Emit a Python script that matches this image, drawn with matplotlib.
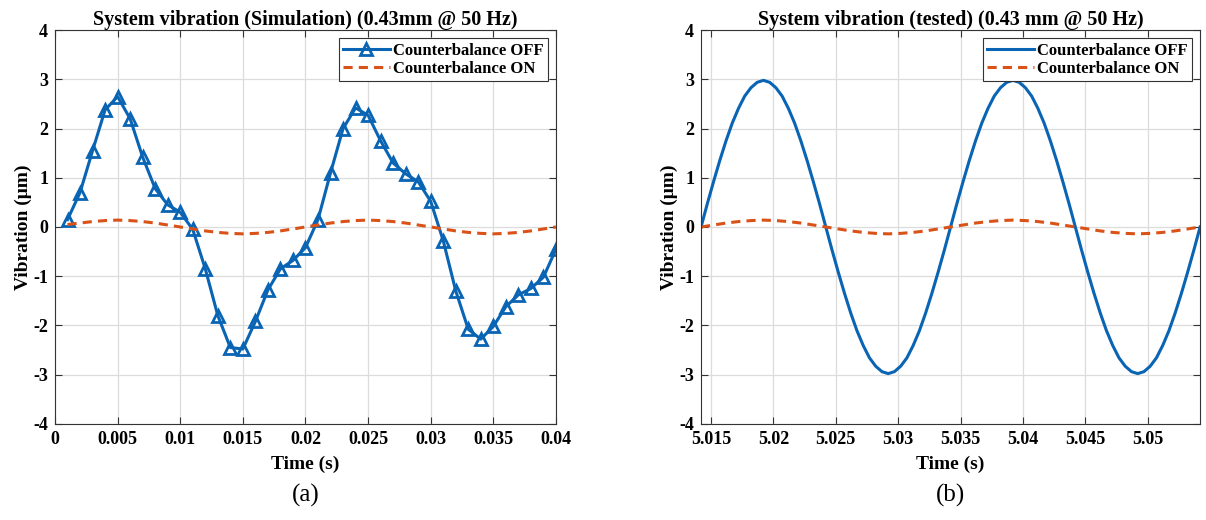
import numpy as np
import matplotlib
matplotlib.use("Agg")
import matplotlib.pyplot as plt

# simulated response, one sample per millisecond
sim_time = np.round(np.arange(1, 41) * 0.001, 3)
sim_off = [0.15, 0.70, 1.55, 2.38, 2.65, 2.20, 1.42, 0.78, 0.45, 0.30,
           -0.05, -0.85, -1.80, -2.45, -2.48, -1.92, -1.28, -0.85, -0.68, -0.42,
           0.15, 1.10, 2.00, 2.42, 2.27, 1.75, 1.30, 1.08, 0.92, 0.52,
           -0.28, -1.30, -2.08, -2.28, -2.02, -1.62, -1.38, -1.25, -1.02, -0.45]
sim_on = [0.05, 0.08, 0.11, 0.13, 0.14, 0.13, 0.11, 0.08, 0.04, 0.00,
          -0.04, -0.08, -0.11, -0.13, -0.14, -0.13, -0.11, -0.08, -0.04, 0.00,
          0.04, 0.08, 0.11, 0.13, 0.14, 0.13, 0.11, 0.08, 0.04, 0.00,
          -0.04, -0.08, -0.11, -0.13, -0.14, -0.13, -0.11, -0.08, -0.04, 0.00]

# measured response
test_t0 = 5.0142
test_time_off = test_t0 + np.arange(81) * 0.0005
test_off = [0.00, 0.47, 0.92, 1.35, 1.75, 2.11, 2.41, 2.66, 2.83, 2.94,
            2.98, 2.94, 2.83, 2.66, 2.41, 2.11, 1.75, 1.35, 0.92, 0.47,
            0.00, -0.47, -0.92, -1.35, -1.75, -2.11, -2.41, -2.66, -2.83, -2.94,
            -2.98, -2.94, -2.83, -2.66, -2.41, -2.11, -1.75, -1.35, -0.92, -0.47,
            0.00, 0.47, 0.92, 1.35, 1.75, 2.11, 2.41, 2.66, 2.83, 2.94,
            2.98, 2.94, 2.83, 2.66, 2.41, 2.11, 1.75, 1.35, 0.92, 0.47,
            0.00, -0.47, -0.92, -1.35, -1.75, -2.11, -2.41, -2.66, -2.83, -2.94,
            -2.98, -2.94, -2.83, -2.66, -2.41, -2.11, -1.75, -1.35, -0.92, -0.47,
            0.00]
test_time_on = test_t0 + np.arange(41) * 0.001
test_on = [0.00, 0.04, 0.08, 0.11, 0.13, 0.14, 0.13, 0.11, 0.08, 0.04,
           0.00, -0.04, -0.08, -0.11, -0.13, -0.14, -0.13, -0.11, -0.08, -0.04,
           0.00, 0.04, 0.08, 0.11, 0.13, 0.14, 0.13, 0.11, 0.08, 0.04,
           0.00, -0.04, -0.08, -0.11, -0.13, -0.14, -0.13, -0.11, -0.08, -0.04,
           0.00]

sim_xticks = [0, 0.005, 0.01, 0.015, 0.02, 0.025, 0.03, 0.035, 0.04]
sim_xlabels = ['0', '0.005', '0.01', '0.015', '0.02', '0.025', '0.03', '0.035', '0.04']
test_xticks = [5.015, 5.02, 5.025, 5.03, 5.035, 5.04, 5.045, 5.05]
test_xlabels = ['5.015', '5.02', '5.025', '5.03', '5.035', '5.04', '5.045', '5.05']
yticks = [-4, -3, -2, -1, 0, 1, 2, 3, 4]

blue = '#0a64b4'
orange = '#d95319'

plt.rcParams['font.family'] = ['Liberation Serif', 'DejaVu Serif']
plt.rcParams['axes.unicode_minus'] = False

fig = plt.figure(figsize=(12.06, 5.2), dpi=100)
ax1 = fig.add_axes([0.0456, 0.185, 0.4154, 0.757])
ax2 = fig.add_axes([0.5813, 0.185, 0.4138, 0.757])


def style(ax, title, xticks, xlabels, caption):
    ax.set_ylim(-4, 4)
    ax.set_yticks(yticks)
    ax.set_yticklabels([str(v) for v in yticks], fontweight='bold', fontsize=13)
    ax.set_xticks(xticks)
    ax.set_xticklabels(xlabels, fontweight='bold', fontsize=13)
    ax.tick_params(direction='in', top=True, right=True, length=5, width=0.8,
                   color='#333333', pad=5)
    ax.grid(True, color='#dcdcdc', linewidth=0.9)
    ax.set_axisbelow(True)
    for s in ax.spines.values():
        s.set_color('#333333')
        s.set_linewidth(0.8)
    ax.set_title(title, fontweight='bold', fontsize=14.5, pad=4)
    ax.set_xlabel('Time (s)', fontweight='bold', fontsize=14, labelpad=6)
    ax.set_ylabel('Vibration (μm)', fontweight='bold', fontsize=14, labelpad=1)
    leg = ax.legend(loc='upper right', fancybox=False, framealpha=1,
                    edgecolor='#333333', prop={'weight': 'bold', 'size': 12},
                    handlelength=2.8, handletextpad=0.2, borderpad=0.25,
                    labelspacing=0.15, borderaxespad=0.5)
    leg.get_frame().set_linewidth(0.8)
    ax.text(0.5, -0.182, caption, transform=ax.transAxes, ha='center', va='center',
            fontsize=18)


ax1.plot(sim_time, sim_off, color=blue, lw=2.2, marker='^', markersize=9,
         markerfacecolor='none', markeredgewidth=2, label='Counterbalance OFF')
ax1.plot(sim_time, sim_on, color=orange, lw=2.2, ls=(0, (3, 2)),
         label='Counterbalance ON')
ax1.set_xlim(0, 0.04)
style(ax1, 'System vibration (Simulation) (0.43mm @ 50 Hz)', sim_xticks, sim_xlabels, '(a)')

ax2.plot(test_time_off, test_off, color=blue, lw=2.2, label='Counterbalance OFF')
ax2.plot(test_time_on, test_on, color=orange, lw=2.2, ls=(0, (3, 2)),
         label='Counterbalance ON')
ax2.set_xlim(test_time_off[0], test_time_off[-1])
style(ax2, 'System vibration (tested) (0.43 mm @ 50 Hz)', test_xticks, test_xlabels, '(b)')

fig.savefig('out.png', dpi=100)
